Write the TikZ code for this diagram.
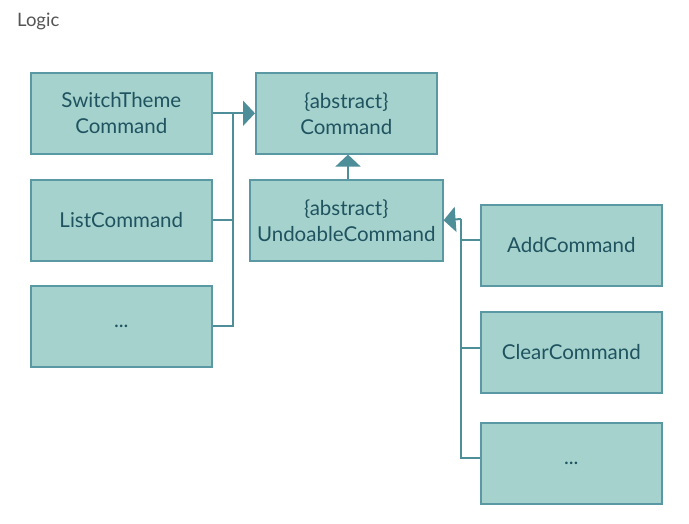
\documentclass[tikz,border=0pt]{standalone}
\usepackage{fontspec}
\setmainfont{Lato}
\usetikzlibrary{arrows.meta}
\definecolor{boxfill}{HTML}{A6D2CD}
\definecolor{boxline}{HTML}{5A98A3}
\definecolor{linkcol}{HTML}{4E8E99}
\definecolor{txtcol}{HTML}{1F5360}
\definecolor{titlecol}{HTML}{555555}
\begin{document}
\begin{tikzpicture}[x=1pt,y=-1pt,
  cls/.style={draw=boxline, line width=1.6pt, fill=boxfill, text=txtcol,
    minimum width=181pt, minimum height=81pt, inner sep=0pt, align=center,
    font=\fontsize{20.5}{26}\selectfont, anchor=north west},
  link/.style={draw=linkcol, line width=2pt},
  gen/.style={link, -{Triangle[length=12pt,width=25pt]}}]
\useasboundingbox (0,0) rectangle (689,523);
\node[text=titlecol, font=\fontsize{18.5}{22}\selectfont, anchor=west, inner sep=0pt] (title) at (17,21) {Logic};

% left column
\node[cls] (theme) at (30,72) {SwitchTheme\\Command};
\node[cls] (list)  at (30,179) {ListCommand};
\node[cls] (more1) at (30,285) {...};

% abstract classes
\node[cls] (cmd) at (255,72) {\{abstract\}\\Command};
\node[cls, minimum width=193pt] (undo) at (249,179) {\{abstract\}\\UndoableCommand};

% right column
\node[cls] (add)   at (480,204) {AddCommand};
\node[cls] (clear) at (480,311) {ClearCommand};
\node[cls] (more2) at (480,422) {...};

% junctions of the inheritance trees
\coordinate (jl) at (233,112.5);
\coordinate (jr) at (461,219);

% Command hierarchy
\draw[gen] (theme.east) -- (cmd.west);
\draw[link] (list.east) -| (jl);
\draw[link] (more1.east) -| (jl);
\draw[gen] (undo.north -| 348,0) -- (cmd.south -| 348,0);

% UndoableCommand hierarchy
\draw[gen] (jr) -- (undo.east);
\draw[link] (add.west |- 0,240) -| (jr);
\draw[link] (clear.west |- 0,348) -| (jr);
\draw[link] (more2.west |- 0,458) -| (jr);
\end{tikzpicture}
\end{document}
